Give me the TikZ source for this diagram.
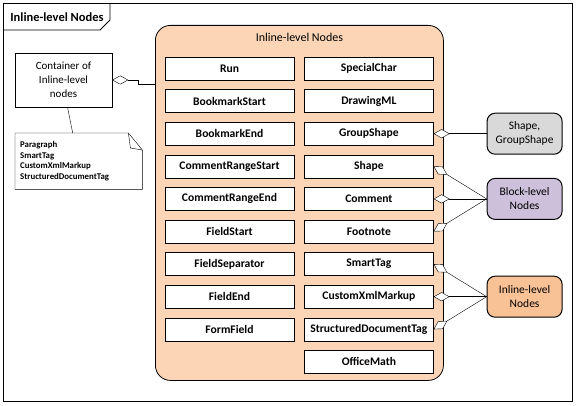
\documentclass[tikz,border=0pt]{standalone}
\usepackage{fontspec}
\setmainfont{Carlito}
\usetikzlibrary{positioning,arrows.meta}
\definecolor{peach}{HTML}{FBD5B5}
\definecolor{apricot}{HTML}{F9C196}
\definecolor{lavender}{HTML}{CCC0DA}
\definecolor{ash}{HTML}{D9D9D9}

\begin{document}
\begin{tikzpicture}[x=1pt,y=-1pt,
    item/.style={draw,fill=white,minimum width=129pt,minimum height=23pt,inner sep=0pt,font=\bfseries\fontsize{11.6}{13}\selectfont},
    kind/.style={draw,line width=1pt,rounded corners=8pt,minimum width=75pt,minimum height=41pt,align=center,font=\fontsize{11.5}{14}\selectfont},
    agg/.style={{Diamond[open,fill=white,length=16pt,width=9pt]}-}]
    \useasboundingbox (0,0) rectangle (576,406);
    \draw[line width=0.8pt] (3,3) rectangle (572,401);
    \draw[line width=0.8pt] (3,30) -- (100,30) -- (110,20) -- (110,3);
    \node (title) [font=\bfseries\fontsize{12.5}{14}\selectfont] at (57,17) {Inline-level Nodes};

    \node (container) [draw,fill=white,minimum width=97pt,minimum height=54pt,align=center,font=\fontsize{11}{14}\selectfont] at (63.5,80) {Container of\\Inline-level\\nodes};
    \node (note) [anchor=north west,minimum width=127pt,minimum height=56pt,text width=117pt,align=left,font=\bfseries\fontsize{8.8}{10.8}\selectfont] at (15,133) {Paragraph\\SmartTag\\CustomXmlMarkup\\StructuredDocumentTag};
    \draw (note.north west) -- ([xshift=-14pt]note.north east) -- ([yshift=-17pt]note.north east) -- (note.south east) -- (note.south west) -- cycle;
    \draw ([xshift=-14pt]note.north east) -- ([xshift=-12pt,yshift=-15pt]note.north east) -- ([yshift=-17pt]note.north east);
    \draw ([xshift=4pt]container.south) -- ([xshift=-6pt]note.north);

    \node (nodes) [draw,line width=0.8pt,fill=peach,rounded corners=15pt,minimum width=288pt,minimum height=355pt,anchor=north west] at (155,25) {};
    \node (caption) [below=5pt of nodes.north,font=\fontsize{12}{14}\selectfont] {Inline-level Nodes};
    \coordinate (jog) at (155,84);
    \draw[agg] (container.east) -- ++(26,0) |- (jog);

    \node (run) [item] at (229.5,68.5) {Run};
    \node (bmstart) [item,below=9.2pt of run] {BookmarkStart};
    \node (bmend) [item,below=9.2pt of bmstart] {BookmarkEnd};
    \node (crstart) [item,below=9.2pt of bmend] {CommentRangeStart};
    \node (crend) [item,below=9.2pt of crstart] {CommentRangeEnd};
    \node (fstart) [item,below=9.2pt of crend] {FieldStart};
    \node (fsep) [item,below=9.2pt of fstart] {FieldSeparator};
    \node (fend) [item,below=9.2pt of fsep] {FieldEnd};
    \node (ffield) [item,below=9.2pt of fend] {FormField};

    \node (special) [item,right=10pt of run] {SpecialChar};
    \node (drawingml) [item,below=9.2pt of special] {DrawingML};
    \node (groupshape) [item,below=9.2pt of drawingml] {GroupShape};
    \node (shape) [item,below=9.2pt of groupshape] {Shape};
    \node (comment) [item,below=9.2pt of shape] {Comment};
    \node (footnote) [item,below=9.2pt of comment] {Footnote};
    \node (smarttag) [item,below=9.2pt of footnote] {SmartTag};
    \node (customxml) [item,below=9.2pt of smarttag] {CustomXmlMarkup};
    \node (sdt) [item,below=9.2pt of customxml] {StructuredDocumentTag};
    \node (officemath) [item,below=9.2pt of sdt] {OfficeMath};

    \node (shapes) [kind,fill=ash,right=53pt of groupshape] {Shape,\\GroupShape};
    \node (block) [kind,fill=lavender,right=53pt of comment] {Block-level\\Nodes};
    \node (inline) [kind,fill=apricot,right=53pt of customxml] {Inline-level\\Nodes};

    \draw[agg] (groupshape.east) -- (shapes.west);
    \draw[agg] (shape.east) -- (block.west);
    \draw[agg] (comment.east) -- (block.west);
    \draw[agg] (footnote.east) -- (block.west);
    \draw[agg] (smarttag.east) -- (inline.west);
    \draw[agg] (customxml.east) -- (inline.west);
    \draw[agg] (sdt.east) -- (inline.west);
\end{tikzpicture}
\end{document}
